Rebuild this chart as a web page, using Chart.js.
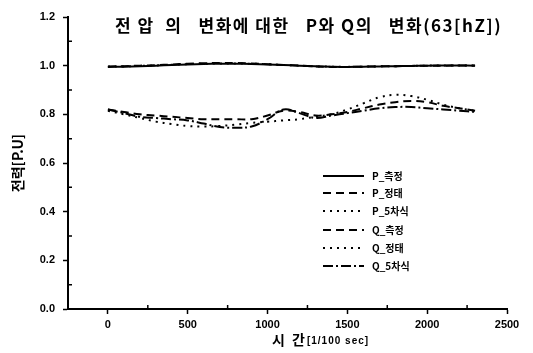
<!DOCTYPE html>
<html>
<head>
<meta charset="utf-8">
<script src="https://cdn.jsdelivr.net/npm/chart.js@4"></script>
<style>
  html, body { margin: 0; padding: 0; background: #fff; }
  #wrap { width: 533px; height: 353px; }
</style>
</head>
<body>
<div id="wrap"><canvas id="powerChart"></canvas></div>
<script>
// time [1/100 sec]
const time = [0, 100, 200, 300, 400, 500, 600, 700, 800, 900, 1000, 1100,
              1200, 1300, 1400, 1500, 1600, 1700, 1800, 1900, 2000, 2100, 2200, 2300];

const seriesNames = ['P_측정', 'P_정태', 'P_5차식', 'Q_측정', 'Q_정태', 'Q_5차식'];

const pMeasured = [0.995, 0.996, 0.998, 1.000, 1.003, 1.005, 1.007, 1.008, 1.008, 1.007, 1.005, 1.003,
                   1.000, 0.998, 0.996, 0.995, 0.996, 0.997, 0.998, 0.999, 1.000, 1.001, 1.001, 1.000];
const pStatic   = [0.997, 0.998, 1.000, 1.002, 1.005, 1.008, 1.010, 1.011, 1.011, 1.009, 1.006, 1.003,
                   1.000, 0.997, 0.995, 0.995, 0.996, 0.997, 0.998, 0.999, 1.000, 1.000, 1.001, 1.001];
const pPoly5    = [0.996, 0.997, 0.999, 1.001, 1.004, 1.006, 1.008, 1.009, 1.009, 1.008, 1.006, 1.003,
                   1.000, 0.997, 0.996, 0.995, 0.996, 0.997, 0.998, 0.999, 1.000, 1.001, 1.001, 1.000];
const qMeasured = [0.820, 0.810, 0.800, 0.795, 0.790, 0.785, 0.780, 0.780, 0.780, 0.780, 0.795, 0.815,
                   0.810, 0.795, 0.800, 0.810, 0.825, 0.840, 0.850, 0.855, 0.850, 0.835, 0.825, 0.815];
const qStatic   = [0.815, 0.800, 0.785, 0.770, 0.760, 0.752, 0.750, 0.752, 0.758, 0.765, 0.770, 0.775,
                   0.780, 0.790, 0.800, 0.820, 0.845, 0.870, 0.880, 0.875, 0.860, 0.840, 0.825, 0.815];
const qPoly5    = [0.820, 0.805, 0.790, 0.785, 0.780, 0.775, 0.762, 0.748, 0.745, 0.750, 0.780, 0.820,
                   0.805, 0.785, 0.795, 0.805, 0.815, 0.825, 0.830, 0.830, 0.825, 0.820, 0.815, 0.810];

const xTickLabels = ['0', '500', '1000', '1500', '2000', '2500'];
const yTickLabels = ['0.0', '0.2', '0.4', '0.6', '0.8', '1.0', '1.2'];

const allValues = [pMeasured, pStatic, pPoly5, qMeasured, qStatic, qPoly5];
const dashes = [[], [8, 5], [2, 5], [8, 5], [2, 5], [10, 3, 2, 3]];

const datasets = allValues.map((vals, i) => ({
    label: seriesNames[i],
    data: vals.map((v, k) => ({ x: time[k], y: v })),
    borderColor: '#000',
    borderWidth: 2,
    borderDash: dashes[i],
    pointRadius: 0,
    tension: 0.4,
    fill: false,
}));

const FONT = '"Liberation Sans", Arial, sans-serif';
const KFONT = '"Noto Sans CJK KR", "Liberation Sans", sans-serif';

const isMajorX = (v) => xTickLabels.includes(String(v));
const isMajorY = (v) => Math.round(v * 10) % 2 === 0;

// title, x label, minor ticks (inward) and legend
const overlay = {
    id: 'overlay',
    afterDraw(chart) {
        const ctx = chart.ctx;
        const xs = chart.scales.x, ys = chart.scales.y;
        ctx.save();
        ctx.fillStyle = '#000';
        ctx.strokeStyle = '#000';
        ctx.textBaseline = 'middle';

        // minor ticks pointing into the plot
        ctx.lineWidth = 1.5;
        ctx.beginPath();
        xs.ticks.forEach(t => {
            if (!isMajorX(t.value)) {
                const px = xs.getPixelForValue(t.value);
                ctx.moveTo(px, xs.top);
                ctx.lineTo(px, xs.top - 4);
            }
        });
        ys.ticks.forEach(t => {
            if (!isMajorY(t.value)) {
                const py = ys.getPixelForValue(t.value);
                ctx.moveTo(ys.right, py);
                ctx.lineTo(ys.right + 4, py);
            }
        });
        ctx.stroke();

        ctx.font = 'bold 17px ' + KFONT;
        ctx.textAlign = 'left';
        ctx.letterSpacing = '1.5px';
        ctx.fillText('전 압  의   변화에 대한   P와 Q의   변화(63[hZ])', 115, 26);

        // x label, mixed size
        ctx.letterSpacing = '2px';
        ctx.font = 'bold 14px ' + KFONT;
        const a = '시 간';
        const wa = ctx.measureText(a).width;
        ctx.fillText(a, 272, 340);
        ctx.letterSpacing = '1px';
        ctx.font = 'bold 10px ' + FONT;
        ctx.fillText('[1/100 sec]', 272 + wa, 341);
        ctx.letterSpacing = '0px';

        // legend
        const rows = [176, 193, 211, 230, 248, 266];
        chart.data.datasets.forEach((ds, i) => {
            const y = rows[i];
            ctx.beginPath();
            ctx.setLineDash(ds.borderDash);
            ctx.lineWidth = 2;
            ctx.moveTo(323, y);
            ctx.lineTo(364, y);
            ctx.stroke();
            ctx.setLineDash([]);
            ctx.font = 'bold 10px ' + KFONT;
            ctx.fillText(ds.label, 372, y);
        });
        ctx.restore();
    }
};

new Chart(document.getElementById('powerChart'), {
    type: 'line',
    data: { datasets: datasets },
    options: {
        responsive: true,
        maintainAspectRatio: false,
        animation: false,
        layout: { padding: { top: 17, right: 26, left: 0, bottom: 0 } },
        plugins: {
            legend: { display: false },
            tooltip: { enabled: false },
        },
        scales: {
            x: {
                type: 'linear',
                min: -250,
                max: 2500,
                afterFit: (s) => { s.height = 44; },
                grid: {
                    drawOnChartArea: false, drawTicks: true, tickLength: 5, tickWidth: 1.5,
                    tickColor: (c) => (c.tick && isMajorX(c.tick.value) ? '#000' : 'rgba(0,0,0,0)'),
                },
                border: { display: true, color: '#000', width: 2 },
                ticks: {
                    stepSize: 250,
                    color: '#000',
                    padding: 4,
                    maxRotation: 0,
                    autoSkip: false,
                    font: { family: FONT, size: 11, weight: 'bold' },
                    callback: (v) => (isMajorX(v) ? String(v) : ''),
                },
            },
            y: {
                min: 0,
                max: 1.2,
                afterFit: (s) => { s.width = 68; },
                grid: {
                    drawOnChartArea: false, drawTicks: true, tickLength: 5, tickWidth: 1.5,
                    tickColor: (c) => (c.tick && isMajorY(c.tick.value) ? '#000' : 'rgba(0,0,0,0)'),
                },
                border: { display: true, color: '#000', width: 2 },
                title: {
                    display: true,
                    text: '전력[P.U]',
                    color: '#000',
                    font: { family: KFONT, size: 14, weight: 'bold' },
                    padding: { top: 9, bottom: 0 },
                },
                ticks: {
                    stepSize: 0.1,
                    color: '#000',
                    padding: 8,
                    autoSkip: false,
                    font: { family: FONT, size: 11, weight: 'bold' },
                    callback: (v) => {
                        const s = Number(v).toFixed(1);
                        return yTickLabels.includes(s) && isMajorY(v) ? s : '';
                    },
                },
            },
        },
    },
    plugins: [overlay],
});
</script>
</body>
</html>
